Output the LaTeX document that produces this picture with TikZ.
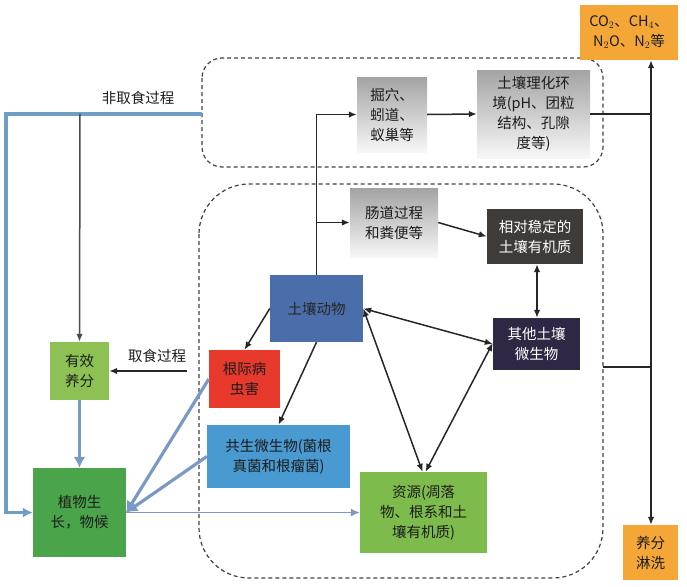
\documentclass[tikz,border=0pt]{standalone}
\usepackage{fontspec}
\setmainfont{Noto Sans CJK SC}
\usetikzlibrary{arrows.meta,calc}
\definecolor{cdong}{HTML}{4A6EA9}
\definecolor{cbing}{HTML}{E8392D}
\definecolor{cgong}{HTML}{4A9AD2}
\definecolor{cyou}{HTML}{8DC153}
\definecolor{czhi}{HTML}{4AA54A}
\definecolor{czi}{HTML}{7DBB4C}
\definecolor{cqita}{HTML}{2F2844}
\definecolor{cwen}{HTML}{3F3B38}
\definecolor{corange}{HTML}{F4A737}
\definecolor{cblue}{HTML}{6E9EC3}
\definecolor{cblue2}{HTML}{7A99C5}
\definecolor{ctext}{HTML}{1C1C1C}
\newcommand{\fsz}{\fontsize{14.5}{20}\selectfont}
\tikzset{
  box/.style={rectangle, inner sep=2pt, align=center, text=ctext, font=\fsz},
  graybox/.style={box, top color=gray!72, bottom color=gray!6, draw=none},
  arr/.style={-{Latex[length=8pt,width=6.5pt]}, line width=1.5pt, draw=black!85},
  darr/.style={{Latex[length=8pt,width=6.5pt]}-{Latex[length=8pt,width=6.5pt]}, line width=1.5pt, draw=black!85},
  plain/.style={line width=1.5pt, draw=black!85},
  barr/.style={-{Latex[length=11pt,width=12pt]}, line width=3.2pt, draw=cblue2},
  dbox/.style={dash pattern=on 4pt off 3pt, line width=1.2pt, draw=black!75},
  lbl/.style={font=\fsz, text=ctext, inner sep=1pt},
}
\begin{document}
\begin{tikzpicture}[x=1pt,y=-1pt]
\useasboundingbox (0,0) rectangle (687,586);
% dashed regions
\draw[dbox, rounded corners=20pt] (202,58) rectangle (603,167);
\draw[dbox, rounded corners=50pt] (199,184) rectangle (603,578);
% nodes
\node[graybox, minimum width=70pt, minimum height=75pt] (jue) at (392,114.5) {掘穴、\\蚓道、\\蚁巢等};
\node[graybox, minimum width=113pt, minimum height=88pt] (huan) at (533.5,114) {土壤理化环\\境(pH、团粒\\结构、孔隙\\度等)};
\node[graybox, minimum width=88pt, minimum height=69pt] (chang) at (394,222.5) {肠道过程\\和粪便等};
\node[box, fill=cwen, text=white, minimum width=96pt, minimum height=55pt] (wen) at (535,236.5) {相对稳定的\\土壤有机质};
\node[box, fill=cqita, text=white, minimum width=87pt, minimum height=52pt] (qita) at (536.5,344) {其他土壤\\微生物};
\node[box, fill=cdong, text=black!85, minimum width=93pt, minimum height=67pt] (dong) at (316.5,308.5) {土壤动物};
\node[box, fill=czi, minimum width=127pt, minimum height=81pt] (zi) at (423.5,512.5) {资源(凋落\\物、根系和土\\壤有机质)};
\node[box, fill=corange, minimum width=55pt, minimum height=55pt] (lin) at (650.5,552.5) {养分\\淋洗};
\node[box, fill=corange, minimum width=98pt, minimum height=55pt] (gas) at (629,32.5) {CO$_2$、CH$_4$、\\N$_2$O、N$_2$等};
\node[box, fill=cbing, minimum width=71pt, minimum height=58pt] (bing) at (244.5,379) {根际病\\虫害};
\node[box, fill=cgong, minimum width=143pt, minimum height=63pt] (gong) at (278.5,456.5) {共生微生物(菌根\\真菌和根瘤菌)};
\node[box, fill=cyou, minimum width=59pt, minimum height=58pt] (you) at (79.5,371) {有效\\养分};
\node[box, fill=czhi, minimum width=93pt, minimum height=89pt] (zhi) at (79.5,512.5) {植物生\\长，物候};
% labels
\node[lbl] (lfq) at (138,98) {非取食过程};
\node[lbl] (lq) at (157,356) {取食过程};
% coordinates
\coordinate (jv) at (651,114);
\coordinate (jb) at (651,367);
\coordinate (eb) at (603,367);
\coordinate (et) at (202,114);
\coordinate (lt) at (6,114);
\coordinate (gt) at (80,114);
\coordinate (qs) at (187,371);
% connectors top
\draw[arr] (dong.north) |- (jue.west);
\draw[arr] (jue.east) -- (huan.west);
\draw[plain] (huan.east) -- (jv);
\draw[arr] (jv) -- (jv |- gas.south);
\draw[arr] (jv) -- (jv |- lin.north);
\draw[plain] (eb) -- (jb);
\draw[arr] (dong.north |- chang.west) -- (chang.west);
\draw[arr] (chang.east) -- (wen.west);
\draw[darr] ([xshift=2pt]wen.south) -- ([xshift=2pt]wen.south |- qita.north);
\draw[darr] (dong.east) -- (qita.west);
\draw[darr] (dong.east) -- ([xshift=-1pt]zi.north);
\draw[darr] ([yshift=1pt]qita.west) -- ([xshift=2pt]zi.north);
\draw[arr] (dong.west) -- (bing.north);
\draw[arr] (dong.south) -- (gong.north);
% left side
\draw[-{Latex[length=10pt,width=10pt]}, line width=3.2pt, draw=cblue] (et) -- (lt) |- (zhi.west);
\draw[-{Latex[length=8pt,width=6.5pt]}, line width=1.5pt, draw=black!70] (gt) -- (you.north);
\draw[arr] (qs) -- (you.east);
\draw[barr] (you.south) -- (zhi.north);
\draw[barr] (bing.west) -- (zhi.east);
\draw[barr] (gong.west) -- (zhi.east);
\draw[-{Latex[length=9pt,width=8pt]}, line width=1.5pt, draw=cblue2] (zhi.east) -- (zi.west);
\end{tikzpicture}
\end{document}
